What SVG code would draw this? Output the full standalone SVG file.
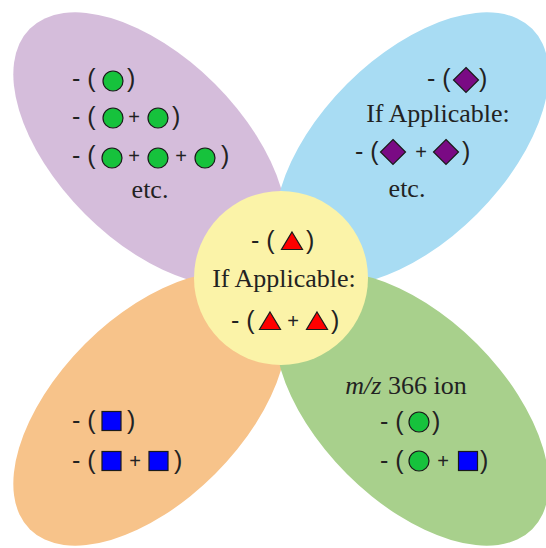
<svg xmlns="http://www.w3.org/2000/svg" xmlns:xlink="http://www.w3.org/1999/xlink" width="546" height="548" viewBox="0 0 546 548">
<style>
.s{font-family:"Liberation Sans",Arial,sans-serif;font-size:25px;fill:#222}
.p{font-family:"Liberation Sans",Arial,sans-serif;font-size:20px;fill:#222;text-anchor:middle}
.r{font-family:"Liberation Serif","Times New Roman",serif;font-size:26px;fill:#222;text-anchor:middle}
.sym{stroke:#1a1a1a;stroke-width:1.2}
</style>
<defs>
<circle id="gc" class="sym" r="10" fill="#16c23c"/>
<polygon id="pd" class="sym" points="0,-12.5 12.5,0 0,12.5 -12.5,0" fill="#7a0a84"/>
<rect id="bs" class="sym" x="-9.5" y="-9.5" width="19" height="19" fill="#0000ff"/>
<polygon id="rt" class="sym" points="0,-9 10.5,8.5 -10.5,8.5" fill="#ff0000"/>
</defs>
<rect width="546" height="548" fill="#ffffff"/>
<g id="petal-purple">
<ellipse cx="150" cy="149" rx="170" ry="92" transform="rotate(45 150 149)" fill="#d5bddb"/>
<text class="s" x="72" y="87">- (</text><use href="#gc" x="113" y="81"/><text class="s" x="127" y="87">)</text>
<text class="s" x="72" y="125">- (</text><use href="#gc" x="113" y="118"/><text class="p" x="134" y="124">+</text><use href="#gc" x="158" y="118"/><text class="s" x="172" y="125">)</text>
<text class="s" x="72" y="164">- (</text><use href="#gc" x="112" y="158"/><text class="p" x="134" y="163">+</text><use href="#gc" x="158" y="158"/><text class="p" x="181" y="163">+</text><use href="#gc" x="205" y="158"/><text class="s" x="221" y="164">)</text>
<text class="r" x="150" y="198">etc.</text>
</g>
<g id="petal-blue">
<ellipse cx="412" cy="149" rx="170" ry="92" transform="rotate(-45 412 149)" fill="#a8dcf3"/>
<text class="s" x="427" y="87">- (</text><use href="#pd" x="466" y="80"/><text class="s" x="479" y="87">)</text>
<text class="r" x="438" y="122">If Applicable:</text>
<text class="s" x="355" y="160">- (</text><use href="#pd" x="393" y="152"/><text class="p" x="421" y="159">+</text><use href="#pd" x="446" y="152"/><text class="s" x="462" y="160">)</text>
<text class="r" x="407" y="197">etc.</text>
</g>
<g id="petal-orange">
<ellipse cx="150" cy="409" rx="170" ry="92" transform="rotate(-45 150 409)" fill="#f7c38a"/>
<text class="s" x="72" y="429">- (</text><use href="#bs" x="111.5" y="421"/><text class="s" x="127" y="429">)</text>
<text class="s" x="72" y="469">- (</text><use href="#bs" x="111.5" y="461"/><text class="p" x="135" y="468">+</text><use href="#bs" x="158.5" y="461"/><text class="s" x="174" y="469">)</text>
</g>
<g id="petal-green">
<ellipse cx="412" cy="409" rx="170" ry="92" transform="rotate(45 412 409)" fill="#a8d08c"/>
<text class="r" x="406" y="394"><tspan font-style="italic">m/z</tspan> 366 ion</text>
<text class="s" x="380" y="430">- (</text><use href="#gc" x="419" y="422"/><text class="s" x="432" y="430">)</text>
<text class="s" x="380" y="469">- (</text><use href="#gc" x="419" y="461"/><text class="p" x="443" y="468">+</text><use href="#bs" x="468" y="461"/><text class="s" x="480" y="469">)</text>
</g>
<g id="center">
<circle cx="281" cy="278" r="87" fill="#fbf3a8"/>
<text class="s" x="251" y="249">- (</text><use href="#rt" x="292" y="241"/><text class="s" x="306" y="249">)</text>
<text class="r" x="284" y="287">If Applicable:</text>
<text class="s" x="231" y="329">- (</text><use href="#rt" x="270" y="321"/><text class="p" x="293" y="328">+</text><use href="#rt" x="317" y="321"/><text class="s" x="331" y="329">)</text>
</g>
<g id="connectors"/>
</svg>
